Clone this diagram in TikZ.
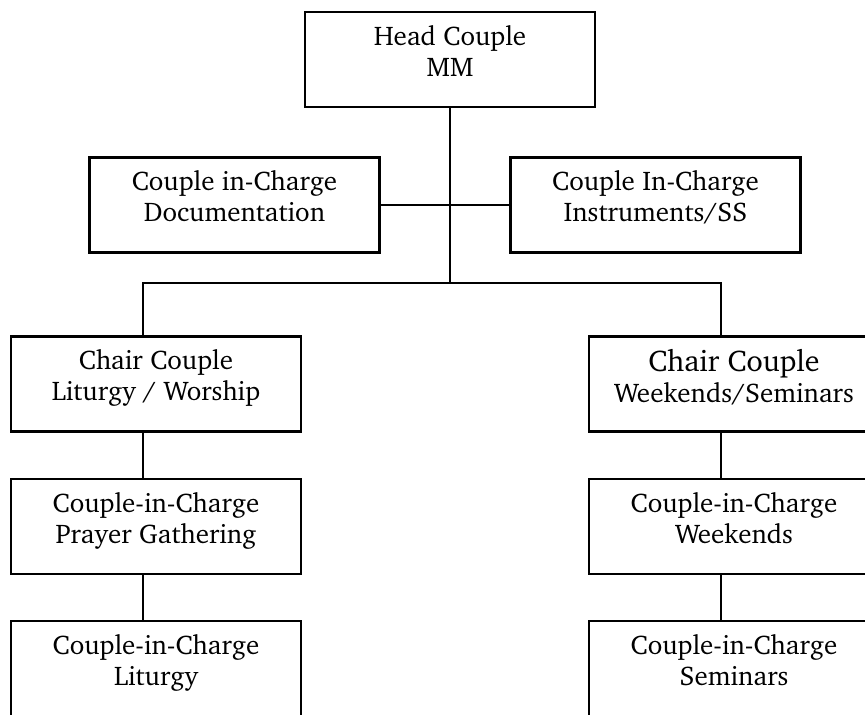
\documentclass[tikz,border=0pt]{standalone}
\usepackage[T1]{fontenc}
\usepackage{charter}
\tikzset{
  unit/.style={draw, line width=2.2pt, minimum width=290pt, minimum height=95pt, inner sep=0pt},
  unitlabel/.style={anchor=north, align=center, inner sep=0pt, yshift=-14pt,
    font=\fontsize{27}{31}\selectfont},
  link/.style={line width=1.5pt}
}

\begin{document}
\begin{tikzpicture}[x=1pt,y=-1pt]
\useasboundingbox (0,0) rectangle (865,715);
\clip (0,0) rectangle (865,715);
% head and its two helpers
\node[unit, label={[unitlabel]north:Head Couple\\MM}] (head) at (450,59.5) {};
\node[unit, label={[unitlabel]north:Couple in-Charge\\Documentation}] (doc) at (234.5,205) {};
\node[unit, label={[unitlabel]north:Couple In-Charge\\Instruments/SS}] (instr) at (655.5,205) {};
% left branch
\node[unit, label={[unitlabel]north:Chair Couple\\Liturgy / Worship}] (chairL) at (156,384) {};
\node[unit, label={[unitlabel]north:Couple-in-Charge\\Prayer Gathering}] (prayer) at (156,526.5) {};
\node[unit, label={[unitlabel]north:Couple-in-Charge\\Liturgy}] (liturgy) at (156,668.5) {};
% right branch
\node[unit, label={[unitlabel]north:{\fontsize{30}{31}\selectfont Chair Couple}\\Weekends/Seminars}] (chairR) at (734,384) {};
\node[unit, label={[unitlabel]north:Couple-in-Charge\\Weekends}] (weekends) at (734,526.5) {};
\node[unit, label={[unitlabel]north:Couple-in-Charge\\Seminars}] (seminars) at (734,668.5) {};

\coordinate (bus) at (450,283);
\draw[link] (head.south) -- (bus);
\draw[link] (doc.east) -- (instr.west);
\draw[link] ([xshift=-13pt]chairL.north) |- (bus) -| ([xshift=-13pt]chairR.north);
\draw[link] ([xshift=-13pt]chairL.south) -- ([xshift=-13pt]prayer.north);
\draw[link] ([xshift=-13pt]prayer.south) -- ([xshift=-13pt]liturgy.north);
\draw[link] ([xshift=-13pt]chairR.south) -- ([xshift=-13pt]weekends.north);
\draw[link] ([xshift=-13pt]weekends.south) -- ([xshift=-13pt]seminars.north);
\end{tikzpicture}
\end{document}
